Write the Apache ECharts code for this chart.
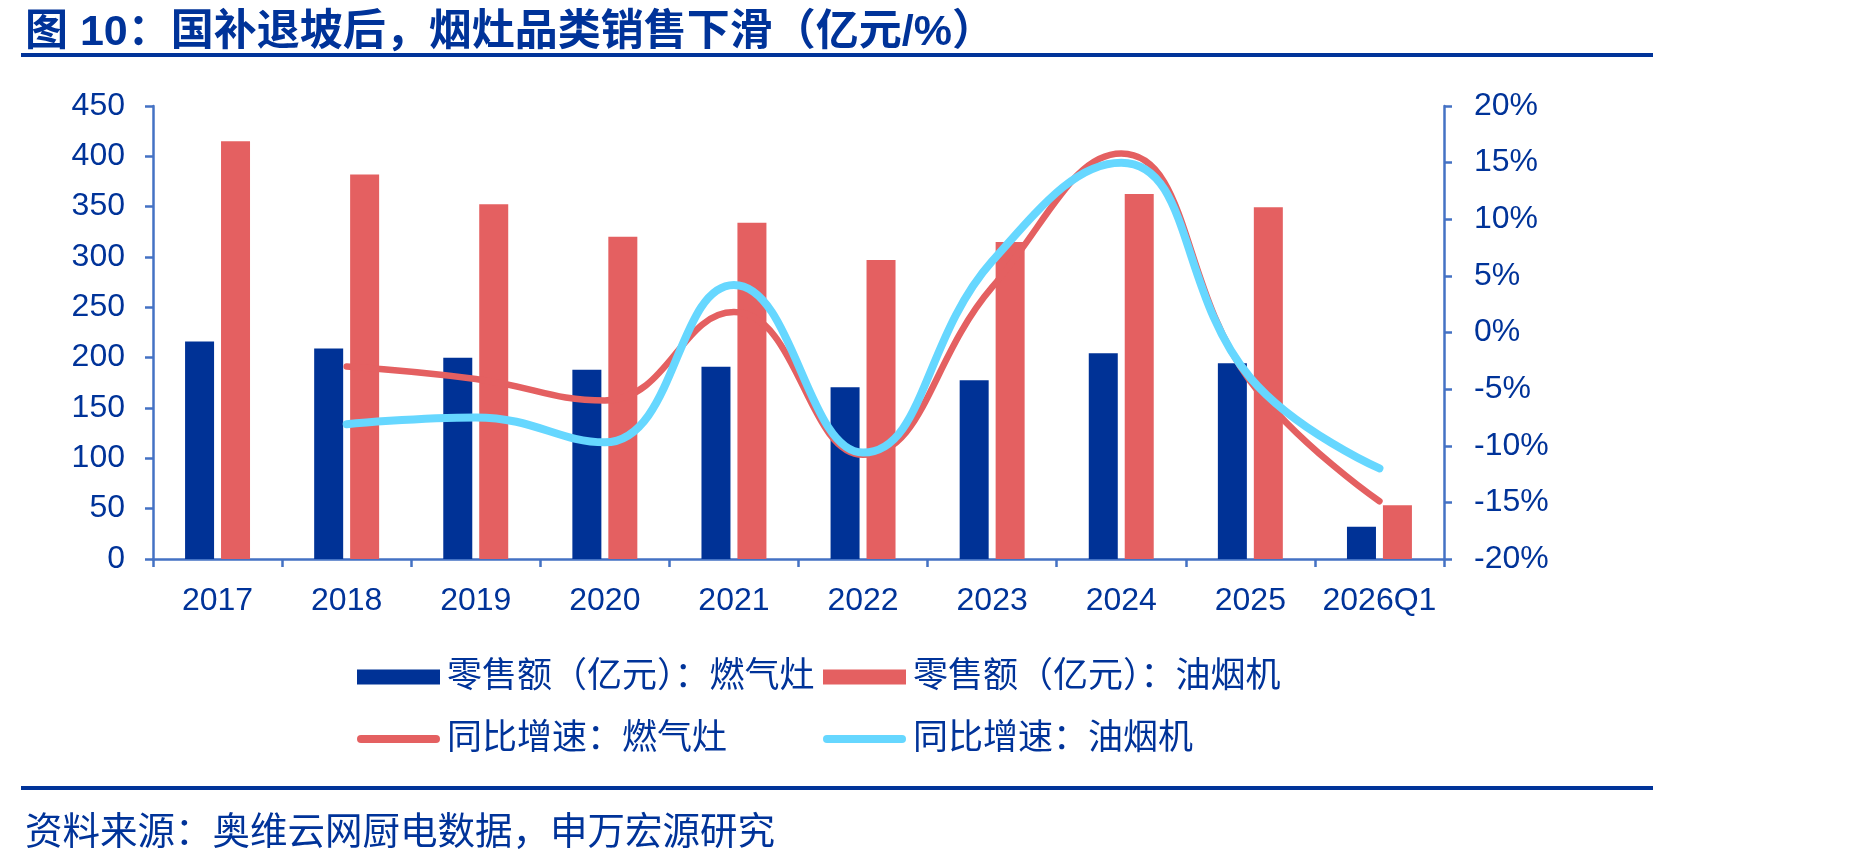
<!DOCTYPE html>
<html>
<head>
<meta charset="utf-8">
<script src="https://cdn.jsdelivr.net/npm/echarts@6/dist/echarts.min.js"></script>
<style>
  html, body { margin: 0; padding: 0; background: #fff; }
  #chart { width: 1849px; height: 864px; }
</style>
</head>
<body>
<div id="chart"></div>
<script>
// 数据
const categories = ['2017', '2018', '2019', '2020', '2021', '2022', '2023', '2024', '2025', '2026Q1']
const gasSales = [216, 209, 200, 188, 191, 170.5, 177.5, 204.5, 194.5, 32]      // 零售额（亿元）：燃气灶
const hoodSales = [415, 382, 352.5, 320, 334, 297, 315, 362.5, 349.5, 53.5]     // 零售额（亿元）：油烟机
const gasYoy = [null, -3.0, -4.1, -6.0, 1.8, -10.8, 4.0, 15.8, -4.3, -14.9]     // 同比增速：燃气灶
const hoodYoy = [null, -8.1, -7.5, -9.7, 4.2, -10.6, 6.3, 15.0, -4.0, -12.0]    // 同比增速：油烟机
const leftTicks = { min: 0, max: 450, interval: 50 }
const rightTicks = { min: -20, max: 20, interval: 5 }

const names = ['零售额（亿元）：燃气灶', '零售额（亿元）：油烟机', '同比增速：燃气灶', '同比增速：油烟机']

const txt = '#003399'
const axisColor = '#4472C4'
const font = "'Liberation Sans', 'Noto Sans CJK SC', sans-serif"
const capsule = 'path://M4,0 L79,0 A4,4 0 0 1 79,8 L4,8 A4,4 0 0 1 4,0 Z'

const chart = echarts.init(document.getElementById('chart'))

function legendItem(name, left, top, icon, h) {
  return {
    data: [name],
    left: left,
    top: top,
    icon: icon,
    itemWidth: 83,
    itemHeight: h,
    itemStyle: { borderWidth: 0 },
    textStyle: { fontSize: 35, color: txt, fontFamily: font, lineHeight: 40, padding: [0, 0, 0, 2] }
  }
}

const option = {
  animation: false,
  title: [
    {
      text: '图 10：国补退坡后，烟灶品类销售下滑（亿元/%）',
      left: 20,
      top: 7,
      textStyle: { fontSize: 43, fontWeight: 'bold', color: txt, fontFamily: font }
    },
    {
      text: '资料来源：奥维云网厨电数据，申万宏源研究',
      left: 20,
      top: 810,
      textStyle: { fontSize: 37.5, fontWeight: 'normal', color: txt, fontFamily: font }
    }
  ],
  graphic: [
    { type: 'rect', shape: { x: 21, y: 53, width: 1632, height: 4 }, style: { fill: '#003399' } },
    { type: 'rect', shape: { x: 21, y: 786, width: 1632, height: 4 }, style: { fill: '#003399' } }
  ],
  legend: [
    legendItem(names[0], 352, 652, 'rect', 15),
    legendItem(names[1], 818, 652, 'rect', 15),
    legendItem(names[2], 352, 714, capsule, 8),
    legendItem(names[3], 818, 714, capsule, 8)
  ],
  grid: { left: 153, right: 405, top: 106, bottom: 305, containLabel: false },
  xAxis: {
    type: 'category',
    data: categories,
    boundaryGap: true,
    axisLine: { show: true, lineStyle: { color: axisColor, width: 2.5 } },
    axisTick: { show: true, length: 8, lineStyle: { color: axisColor, width: 2.5 } },
    axisLabel: { color: txt, fontSize: 32, fontFamily: font, margin: 26, interval: 0 },
    splitLine: { show: false }
  },
  yAxis: [
    {
      type: 'value',
      position: 'left',
      min: leftTicks.min,
      max: leftTicks.max,
      interval: leftTicks.interval,
      axisLine: { show: true, lineStyle: { color: axisColor, width: 2.5 } },
      axisTick: { show: true, length: 8, lineStyle: { color: axisColor, width: 2.5 } },
      axisLabel: { color: txt, fontSize: 32, fontFamily: font, margin: 28 },
      splitLine: { show: false }
    },
    {
      type: 'value',
      position: 'right',
      min: rightTicks.min,
      max: rightTicks.max,
      interval: rightTicks.interval,
      axisLine: { show: true, lineStyle: { color: axisColor, width: 2.5 } },
      axisTick: { show: true, length: 8, lineStyle: { color: axisColor, width: 2.5 } },
      axisLabel: { color: txt, fontSize: 32, fontFamily: font, margin: 30, formatter: '{value}%' },
      splitLine: { show: false }
    }
  ],
  series: [
    {
      name: names[0],
      type: 'bar',
      yAxisIndex: 0,
      barWidth: 29,
      barGap: '24%',
      itemStyle: { color: '#003296' },
      data: gasSales
    },
    {
      name: names[1],
      type: 'bar',
      yAxisIndex: 0,
      barWidth: 29,
      itemStyle: { color: '#E46061' },
      data: hoodSales
    },
    {
      name: names[2],
      type: 'line',
      yAxisIndex: 1,
      smooth: 0.45,
      symbol: 'none',
      itemStyle: { color: '#E46061' },
      lineStyle: { color: '#E46061', width: 6.5, cap: 'round' },
      data: gasYoy
    },
    {
      name: names[3],
      type: 'line',
      yAxisIndex: 1,
      smooth: 0.45,
      symbol: 'none',
      itemStyle: { color: '#66D7FF' },
      lineStyle: { color: '#66D7FF', width: 8, cap: 'round' },
      data: hoodYoy
    }
  ]
}

chart.setOption(option)
</script>
</body>
</html>
